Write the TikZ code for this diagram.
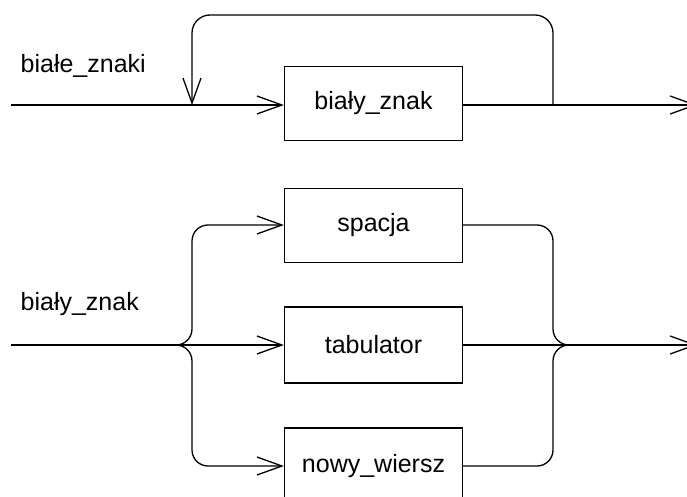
\documentclass[tikz,border=0pt]{standalone}
\usepackage{fontspec}
\setmainfont{Liberation Sans}
\usetikzlibrary{arrows.meta}
\begin{document}
\begin{tikzpicture}[x=1pt,y=-1pt,
  line width=1.3pt,
  every node/.style={font=\fontsize{25}{30}\selectfont},
  box/.style={draw, line width=1.3pt, minimum width=178pt, minimum height=74pt, inner sep=0pt},
  lbl/.style={anchor=base west, inner sep=0pt},
  arr/.style={-{Straight Barb[length=25pt,width=18pt,line width=1.3pt]}},
  rc/.style={rounded corners=16pt}]
\useasboundingbox (0,0) rectangle (687,497);
\clip (0,0) rectangle (687,497);
% top diagram
\node[lbl] (l1) at (20,73) {białe\_znaki};
\node[box] (bz) at (373.5,103.5) {biały\_znak};
\coordinate (s1) at (11,105);
\coordinate (e1) at (697,105);
\coordinate (jl1) at (192,105);
\coordinate (jr1) at (553,105);
\draw[arr] (s1) -- (bz.west |- s1);
\draw[arr] (bz.east |- s1) -- (e1);
\draw[arr, rounded corners=18pt] (jr1) -- (553,15) -- (192,15) -- (jl1);
% bottom diagram
\node[lbl] (l2) at (20,310) {biały\_znak};
\node[box] (sp) at (373.5,225.5) {spacja};
\node[box, minimum height=76pt] (tb) at (373.5,345) {tabulator};
\node[box, minimum height=76pt] (nw) at (373.5,466) {nowy\_wiersz};
\coordinate (s2) at (11,345);
\coordinate (e2) at (697,345);
\coordinate (bl) at (150,345);
\coordinate (br) at (590,345);
\draw[arr] (s2) -- (tb.west);
\draw[arr] (tb.east) -- (e2);
\draw[arr, rc] (bl) -| (192,225) -- (sp.west |- 0,225);
\draw[arr, rc] (bl) -| (192,466) -- (nw.west);
\draw[rc] (sp.east |- 0,225) -| (553,345) -- (br);
\draw[rc] (nw.east) -| (553,345) -- (br);
\end{tikzpicture}
\end{document}
